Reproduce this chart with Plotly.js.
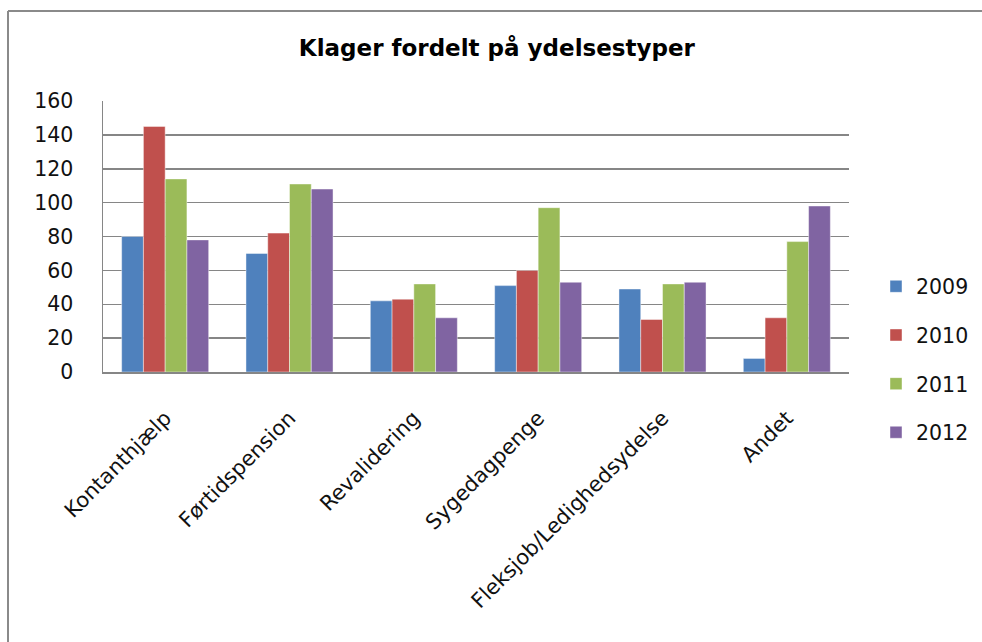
<!DOCTYPE html>
<html>
<head>
<meta charset="utf-8">
<script src="https://cdn.plot.ly/plotly-3.0.1.min.js"></script>
<style>
  html, body { margin: 0; padding: 0; background: #ffffff; overflow: hidden; width: 982px; height: 642px; }
  #chart { position: absolute; left: 0; top: 0; width: 982px; height: 642px; }
</style>
</head>
<body>
<div id="chart"></div>
<script>
const categories = ["Kontanthjælp", "Førtidspension", "Revalidering", "Sygedagpenge", "Fleksjob/Ledighedsydelse", "Andet"];
const years = ["2009", "2010", "2011", "2012"];
const v2009 = [80, 70, 42, 51, 49, 8];
const v2010 = [145, 82, 43, 60, 31, 32];
const v2011 = [114, 111, 52, 97, 52, 77];
const v2012 = [78, 108, 32, 53, 53, 98];
const colors = ["#4F81BD", "#C0504D", "#9BBB59", "#8064A2"];
const seriesValues = [v2009, v2010, v2011, v2012];

const fontFam = "DejaVu Sans, sans-serif";
const traces = years.map((y, i) => ({
  type: "bar",
  name: y,
  x: categories,
  y: seriesValues[i],
  legendgroup: y,
  marker: { color: colors[i], line: { color: "rgba(255,255,255,0.55)", width: 0.8 } },
  hoverinfo: "x+y+name"
}));

// plot area: x 103..849, y 101..372 (pixels)
const L = 103, R = 849, T = 101, B = 372;
const px2x = p => (p - L) / (R - L);
const px2y = p => (B - p) / (B - T);

const layout = {
  width: 982, height: 642,
  paper_bgcolor: "#ffffff",
  plot_bgcolor: "rgba(0,0,0,0)",
  margin: { l: L, r: 982 - R, t: T, b: 642 - B, pad: 0, autoexpand: false },
  font: { family: fontFam, size: 20, color: "#111" },
  title: {
    text: "<b>Klager fordelt på ydelsestyper</b>",
    font: { family: fontFam, size: 23, color: "#000" },
    xref: "container", x: 0.506, xanchor: "center",
    yref: "container", y: 1 - 48 / 642, yanchor: "middle"
  },
  barmode: "group",
  bargap: 0.3,
  bargroupgap: 0,
  xaxis: {
    type: "category",
    tickangle: -45,
    showgrid: false,
    showline: true, linecolor: "#868686", linewidth: 1.5,
    ticks: "", ticklabelstandoff: 24,
    tickfont: { family: fontFam, size: 21, color: "#111" }
  },
  yaxis: {
    range: [0, 160],
    tickmode: "array",
    tickvals: [0, 20, 40, 60, 80, 100, 120, 140, 160],
    showgrid: true, gridcolor: "#868686", gridwidth: 1.5,
    showline: true, linecolor: "#868686", linewidth: 1.5,
    zeroline: false,
    ticks: "", ticklabelstandoff: 24,
    tickfont: { family: fontFam, size: 20.5, color: "#111" }
  },
  legend: {
    x: px2x(876), xanchor: "left",
    y: px2y(359.5), yanchor: "middle",
    traceorder: "grouped",
    tracegroupgap: 19,
    font: { family: fontFam, size: 20.5, color: "#111" },
    bgcolor: "rgba(0,0,0,0)"
  },
  shapes: [
    { type: "line", xref: "paper", yref: "paper", x0: px2x(8), x1: px2x(990), y0: px2y(11), y1: px2y(11),
      line: { color: "#8a8a8a", width: 2 } },
    { type: "line", xref: "paper", yref: "paper", x0: px2x(8), x1: px2x(8), y0: px2y(11), y1: px2y(660),
      line: { color: "#8a8a8a", width: 2 } }
  ],
  showlegend: true
};

Plotly.newPlot("chart", traces, layout, { displayModeBar: false, staticPlot: true });
</script>
</body>
</html>
